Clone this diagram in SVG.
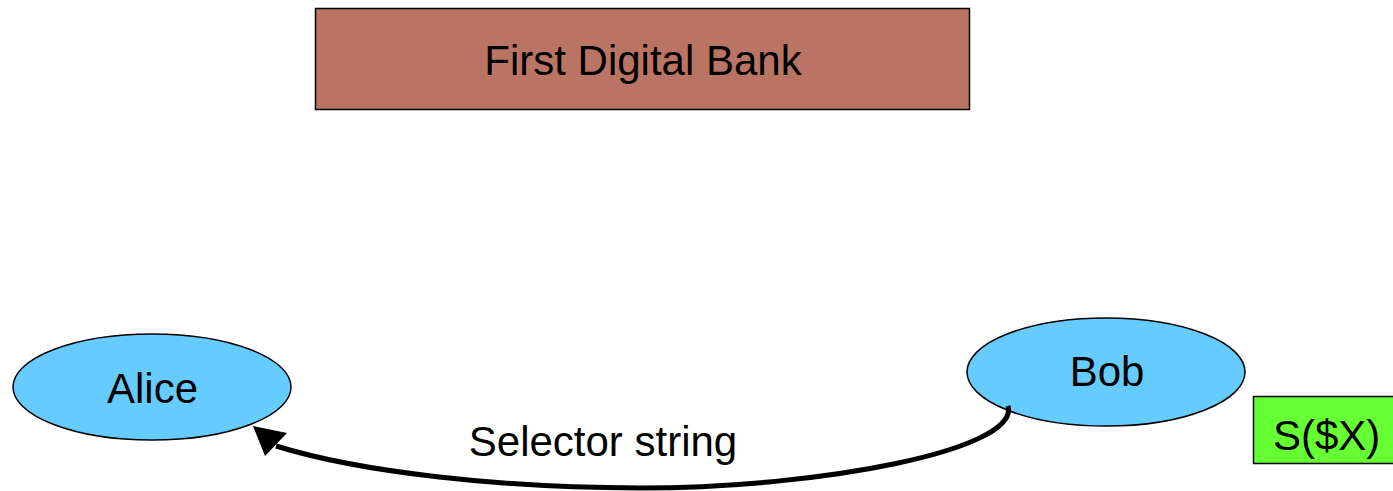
<svg xmlns="http://www.w3.org/2000/svg" width="1393" height="491" viewBox="0 0 1393 491">
<style>
text{font-family:"Liberation Sans",Arial,sans-serif;font-size:42px;fill:#000}
.node{stroke:#000;stroke-width:1.5}
.person{fill:#66ccff}
</style>
<rect width="1393" height="491" fill="#fff"/>
<g id="bank">
<rect class="node" x="315.5" y="8.5" width="654" height="101" fill="#b97463"/>
<text x="643" y="75" text-anchor="middle">First Digital Bank</text>
</g>
<g id="alice">
<ellipse class="node person" cx="152" cy="387" rx="139" ry="53"/>
<text x="152.5" y="403" text-anchor="middle">Alice</text>
</g>
<g id="bob">
<ellipse class="node person" cx="1106" cy="372" rx="139" ry="54"/>
<text x="1107" y="386" text-anchor="middle">Bob</text>
</g>
<g id="sx">
<rect class="node" x="1253.5" y="396.5" width="145" height="67" fill="#66ff33"/>
<text x="1273" y="450">S($X)</text>
</g>
<g id="connectors">
<path d="M1008 406 C1020 450 820 488 640 488 C500 488 360 472 276 446" fill="none" stroke="#000" stroke-width="5"/>
<polygon points="253,426 265,456 287,433" fill="#000"/>
<text x="603" y="456" text-anchor="middle">Selector string</text>
</g>
</svg>
